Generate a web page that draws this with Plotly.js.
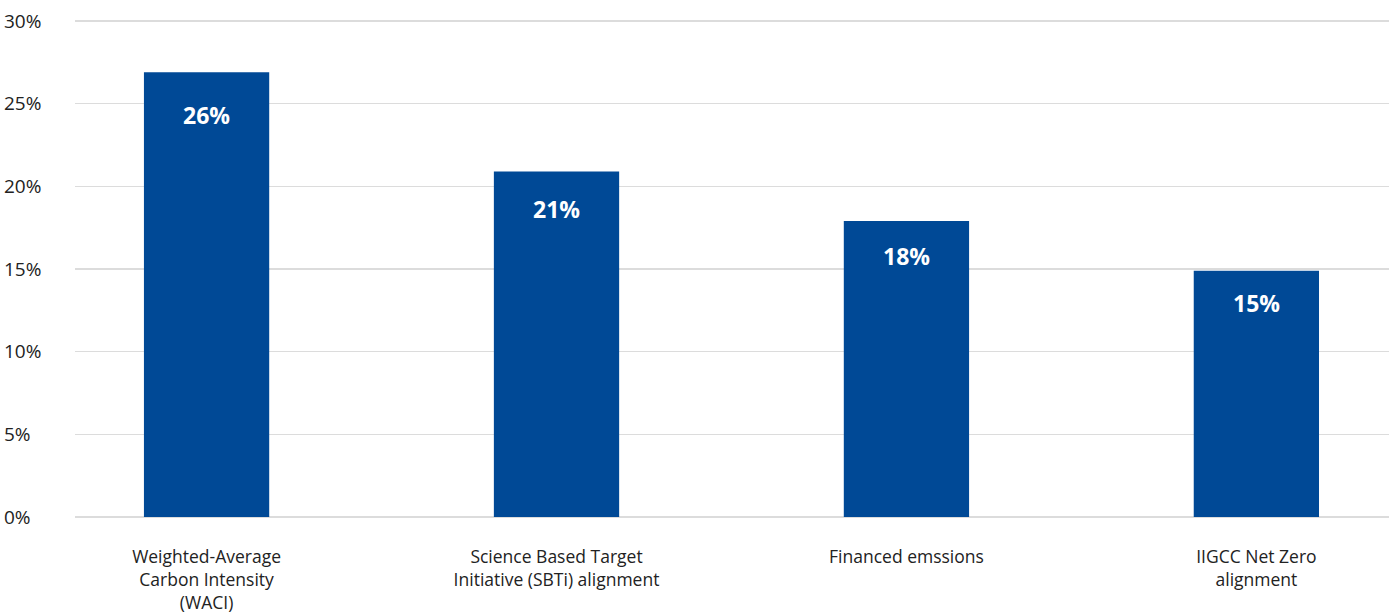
<!DOCTYPE html>
<html>
<head>
<meta charset="utf-8">
<script src="https://cdn.plot.ly/plotly-3.0.1.min.js"></script>
<style>html,body{margin:0;padding:0;background:#fff;}#chart{width:1397px;height:612px;}</style>
</head>
<body>
<div id="chart"></div>
<script>
const categories = [
  "Weighted-Average<br>Carbon Intensity<br>(WACI)",
  "Science Based Target<br>Initiative (SBTi) alignment",
  "Financed emssions",
  "IIGCC Net Zero<br>alignment"
];
const values = [26.9, 20.9, 17.9, 14.9];
const valueLabels = ["26%", "21%", "18%", "15%"];
const yTickVals = [0, 5, 10, 15, 20, 25, 30];
const yTickText = ["0%", "5%", "10%", "15%", "20%", "25%", "30%"];

const FONT = "'Open Sans', sans-serif";

const trace = {
  type: "bar",
  x: categories,
  y: values,
  width: 0.358,
  marker: {color: "#004996"},
  hoverinfo: "skip"
};

const annotations = categories.map((c, i) => ({
  x: c, y: values[i], xref: "x", yref: "y",
  text: "<b>" + valueLabels[i] + "</b>",
  showarrow: false, yanchor: "middle", yshift: -(20 + values[i] * 0.85),
  font: {family: FONT, size: 23, color: "#ffffff"}
}));

const layout = {
  width: 1397, height: 612,
  margin: {l: 75, r: 8, t: 19, b: 95},
  paper_bgcolor: "#fff", plot_bgcolor: "#fff",
  showlegend: false,
  xaxis: {
    type: "category",
    range: [-0.376, 3.379],
    showgrid: false, zeroline: false, showline: false,
    ticks: "outside", ticklen: 0,
    ticklabelstandoff: 24,
    tickfont: {family: FONT, size: 17.5, color: "#222"},
    fixedrange: true
  },
  yaxis: {
    range: [0, 30.12],
    side: "right", anchor: "free", position: 0,
    tickvals: yTickVals, ticktext: yTickText,
    ticks: "",
    ticklabelstandoff: -72,
    showgrid: true, gridcolor: "#dcdcdc", gridwidth: 1.5,
    zeroline: true, zerolinecolor: "#dcdcdc", zerolinewidth: 1.5,
    showline: false,
    tickfont: {family: FONT, size: 19, color: "#222"},
    fixedrange: true
  },
  annotations: annotations
};

Plotly.newPlot("chart", [trace], layout, {displayModeBar: false, staticPlot: true});
</script>
</body>
</html>
